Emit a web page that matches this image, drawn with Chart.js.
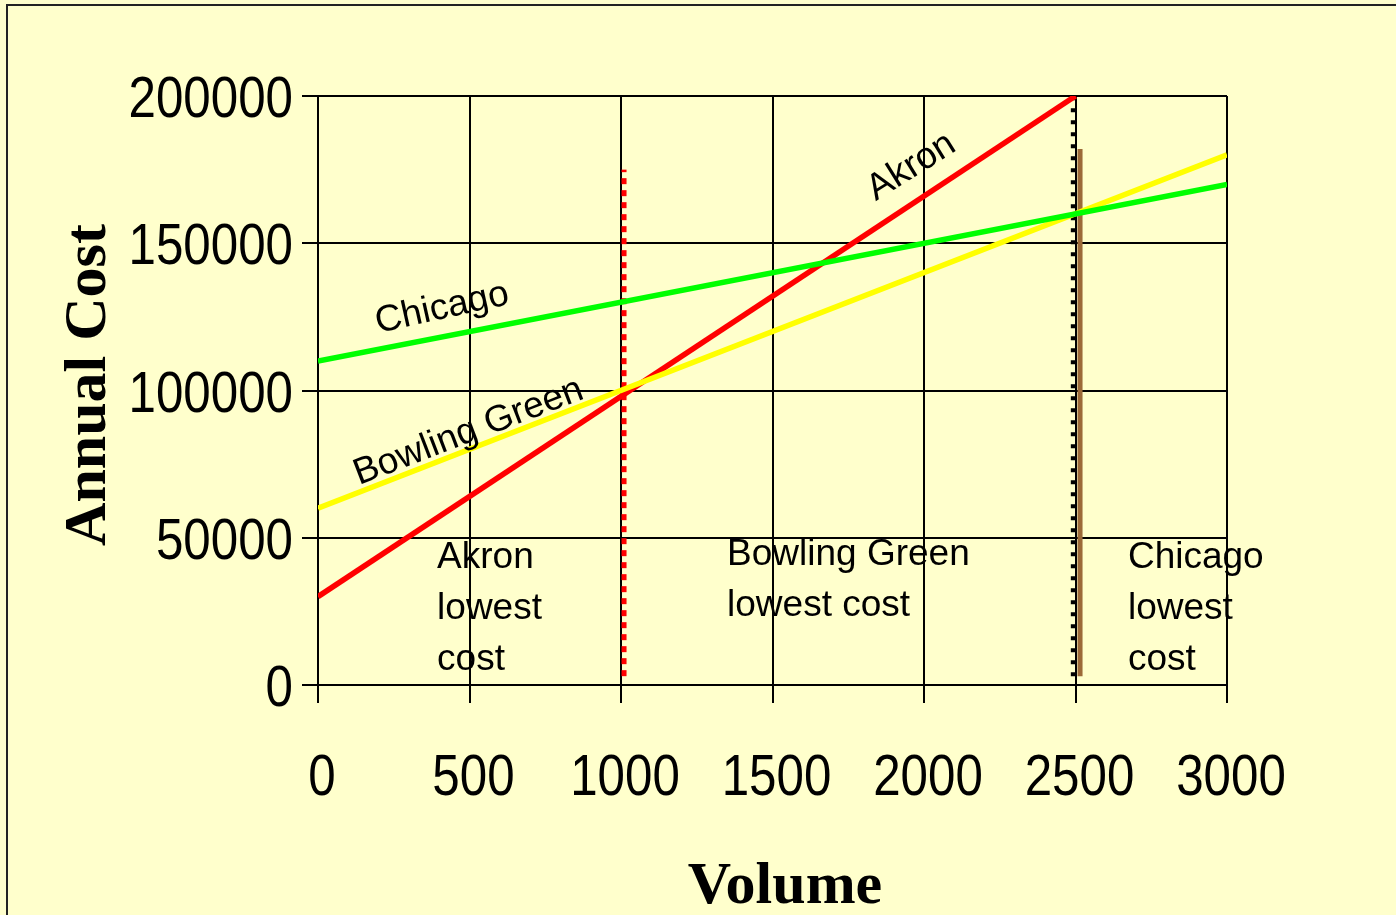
<!DOCTYPE html>
<html>
<head>
<meta charset="utf-8">
<title>Annual Cost vs Volume</title>
<script src="https://cdn.jsdelivr.net/npm/chart.js@4.4.0/dist/chart.umd.min.js"></script>
<style>
  html, body { margin: 0; padding: 0; background: #FFFFCC; }
  canvas { display: block; }
</style>
</head>
<body>
<canvas id="chart" width="1396" height="915"></canvas>
<script>
// Cost lines for the three sites (volume -> annual cost)
const akronVolume = [0, 2500];
const akronCost = [30000, 200000];
const bowlingGreenVolume = [0, 3000];
const bowlingGreenCost = [60000, 180000];
const chicagoVolume = [0, 3000];
const chicagoCost = [110000, 170000];

// Vertical dividers between the lowest-cost regions
const redDividerVolume = [1010, 1010];
const redDividerCost = [3000, 175000];
const blackDividerVolume = [2492, 2492];
const blackDividerCost = [3000, 200000];
const brownDividerVolume = [2515, 2515];
const brownDividerCost = [3000, 182000];

// Axis ticks
const volumeTicks = [0, 500, 1000, 1500, 2000, 2500, 3000];
const costTicks = [0, 50000, 100000, 150000, 200000];

const pts = (xs, ys) => xs.map((x, i) => ({ x: x, y: ys[i] }));

const TEXT_FONT = "'Liberation Sans', Arial, sans-serif";
const TITLE_FONT = "'Liberation Serif', 'Times New Roman', serif";

const backdrop = {
  id: 'backdrop',
  beforeDraw(chart) {
    const ctx = chart.ctx;
    ctx.save();
    ctx.fillStyle = '#FFFFCC';
    ctx.fillRect(0, 0, chart.width, chart.height);
    ctx.strokeStyle = '#222222';
    ctx.lineWidth = 2;
    ctx.beginPath();
    ctx.moveTo(7, chart.height + 5);
    ctx.lineTo(7, 5);
    ctx.lineTo(chart.width + 5, 5);
    ctx.stroke();
    ctx.restore();
  }
};

// Narrow tick labels placed at the scales' own tick positions
const narrowTicks = {
  id: 'narrowTicks',
  afterDraw(chart) {
    const ctx = chart.ctx;
    const xs = chart.scales.x, ys = chart.scales.y;
    const squeeze = 0.85;
    ctx.save();
    ctx.fillStyle = '#000000';
    ctx.font = '58px ' + TEXT_FONT;
    ctx.textBaseline = 'alphabetic';
    ys.ticks.forEach(t => {
      const py = ys.getPixelForValue(t.value);
      ctx.save();
      ctx.translate(293, py + 21);
      ctx.scale(squeeze, 1);
      ctx.textAlign = 'right';
      ctx.fillText(String(t.value), 0, 0);
      ctx.restore();
    });
    xs.ticks.forEach(t => {
      const px = xs.getPixelForValue(t.value);
      ctx.save();
      ctx.translate(px + 4, 795);
      ctx.scale(squeeze, 1);
      ctx.textAlign = 'center';
      ctx.fillText(String(t.value), 0, 0);
      ctx.restore();
    });
    ctx.restore();
  }
};

const labels = {
  id: 'labels',
  afterDraw(chart) {
    const ctx = chart.ctx;
    const xs = chart.scales.x, ys = chart.scales.y;
    ctx.save();
    ctx.fillStyle = '#000000';

    // Region captions
    ctx.font = '37px ' + TEXT_FONT;
    ctx.textAlign = 'left';
    ctx.textBaseline = 'alphabetic';
    const blocks = [
      { x: 393, y: 39700, lines: ['Akron', 'lowest', 'cost'] },
      { x: 1350, y: 40700, lines: ['Bowling Green', 'lowest cost'] },
      { x: 2673, y: 39700, lines: ['Chicago', 'lowest', 'cost'] }
    ];
    blocks.forEach(b => {
      const px = xs.getPixelForValue(b.x);
      const py = ys.getPixelForValue(b.y);
      b.lines.forEach((t, i) => ctx.fillText(t, px, py + i * 51));
    });

    // Line names written along each line
    const names = [
      { text: 'Chicago', x: 198, y: 119500, angle: 12.5 },
      { text: 'Bowling Green', x: 135, y: 67900, angle: 21 },
      { text: 'Akron', x: 1841, y: 164300, angle: 32 }
    ];
    names.forEach(n => {
      ctx.save();
      ctx.translate(xs.getPixelForValue(n.x), ys.getPixelForValue(n.y));
      ctx.rotate(-n.angle * Math.PI / 180);
      ctx.fillText(n.text, 0, 0);
      ctx.restore();
    });

    // Axis titles
    ctx.font = 'bold 60px ' + TITLE_FONT;
    ctx.textAlign = 'center';
    ctx.fillText('Volume', 785, 903);
    ctx.save();
    ctx.translate(105, 385);
    ctx.rotate(-Math.PI / 2);
    ctx.fillText('Annual Cost', 0, 0);
    ctx.restore();
    ctx.restore();
  }
};

const lineStyle = (color, width) => ({
  borderColor: color,
  backgroundColor: color,
  borderWidth: width,
  pointRadius: 0,
  fill: false,
  tension: 0,
  borderCapStyle: 'butt'
});

new Chart(document.getElementById('chart'), {
  type: 'line',
  data: {
    datasets: [
      Object.assign({ label: 'Chicago', data: pts(chicagoVolume, chicagoCost) }, lineStyle('#00FF00', 5.5)),
      Object.assign({ label: 'Bowling Green', data: pts(bowlingGreenVolume, bowlingGreenCost) }, lineStyle('#FFFF00', 5.5)),
      Object.assign({ label: 'Akron', data: pts(akronVolume, akronCost) }, lineStyle('#FF0000', 5.5)),
      Object.assign({ label: 'divider brown', data: pts(brownDividerVolume, brownDividerCost) }, lineStyle('#9C6A38', 5)),
      Object.assign({ label: 'divider black', data: pts(blackDividerVolume, blackDividerCost), borderDash: [4, 8] }, lineStyle('#000000', 4.5)),
      Object.assign({ label: 'divider red', data: pts(redDividerVolume, redDividerCost), borderDash: [6, 6] }, lineStyle('#FF0000', 5))
    ]
  },
  options: {
    responsive: false,
    animation: false,
    events: [],
    layout: { padding: { left: 0, right: 169, top: 96, bottom: 0 } },
    plugins: { legend: { display: false }, tooltip: { enabled: false } },
    scales: {
      x: {
        type: 'linear',
        min: volumeTicks[0],
        max: volumeTicks[volumeTicks.length - 1],
        afterBuildTicks: s => { s.ticks = volumeTicks.map(v => ({ value: v })); },
        afterFit: s => { s.height = 230; },
        grid: { color: '#000000', lineWidth: 2, tickLength: 18, tickColor: '#000000' },
        border: { display: true, color: '#000000', width: 2 },
        ticks: { display: false }
      },
      y: {
        type: 'linear',
        min: costTicks[0],
        max: costTicks[costTicks.length - 1],
        afterBuildTicks: s => { s.ticks = costTicks.map(v => ({ value: v })); },
        afterFit: s => { s.width = 318; },
        grid: { color: '#000000', lineWidth: 2, tickLength: 16, tickColor: '#000000' },
        border: { display: true, color: '#000000', width: 2 },
        ticks: { display: false }
      }
    }
  },
  plugins: [backdrop, narrowTicks, labels]
});
</script>
</body>
</html>
